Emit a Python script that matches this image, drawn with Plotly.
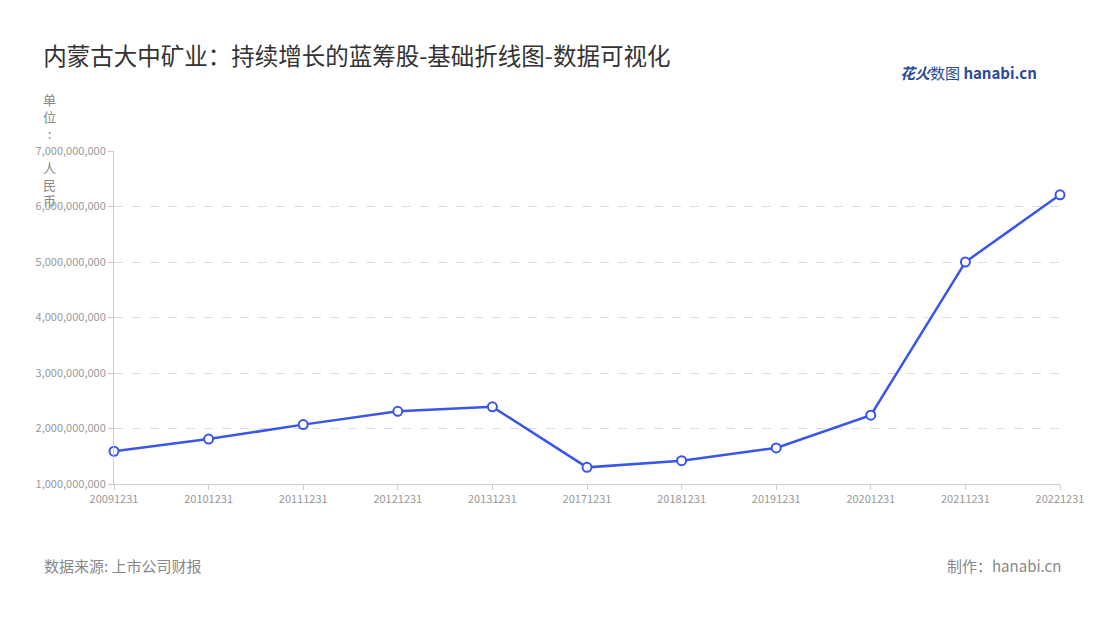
import plotly.graph_objects as go

categories = ["20091231","20101231","20111231","20121231","20131231","20171231","20181231","20191231","20201231","20211231","20221231"]
values = [1.59e9, 1.81e9, 2.07e9, 2.31e9, 2.39e9, 1.30e9, 1.42e9, 1.65e9, 2.24e9, 5.0e9, 6.21e9]
tick_vals = [1e9, 2e9, 3e9, 4e9, 5e9, 6e9, 7e9]
tick_text = ["1,000,000,000","2,000,000,000","3,000,000,000","4,000,000,000","5,000,000,000","6,000,000,000","7,000,000,000"]

font = "Noto Sans CJK SC"
fig = go.Figure(go.Scatter(
    x=categories, y=values, mode="lines+markers",
    line=dict(color="#3a56e8", width=2.5),
    marker=dict(size=9, color="white", line=dict(color="#3a56e8", width=2)),
    cliponaxis=False, showlegend=False))

fig.update_layout(
    width=1100, height=620, plot_bgcolor="white", paper_bgcolor="white",
    margin=dict(l=106, r=48, t=143, b=144),
    font=dict(family=font, color="#999"),
    title=dict(text="内蒙古大中矿业：持续增长的蓝筹股-基础折线图-数据可视化", x=0.032, xanchor="left",
               y=0.922, yanchor="middle", font=dict(size=23.5, color="#333", family=font)),
    xaxis=dict(type="category", range=[0, 10], showgrid=False, showline=True, linecolor="#ccc",
               ticks="outside", tickcolor="#ccc", ticklen=5, tickfont=dict(size=11, color="#999")),
    yaxis=dict(range=[1e9, 7e9], tickvals=tick_vals, ticktext=tick_text, showgrid=True,
               gridcolor="#ddd", griddash="dash", zeroline=False, ticks="outside", tickcolor="#ccc",
               ticklen=5, showline=True, linecolor="#ccc", tickfont=dict(size=11, color="#999")),
    annotations=[
        dict(text="单<br>位<br>:<br><br>人<br>民<br>币", x=-0.068, y=1.19, xref="paper", yref="paper", showarrow=False,
             font=dict(size=13, color="#888"), xanchor="center", yanchor="top"),
        dict(text="数据来源: 上市公司财报", x=-0.076, y=-0.245, xref="paper", yref="paper", showarrow=False,
             xanchor="left", yanchor="middle", font=dict(size=15, color="#888")),
        dict(text="制作：hanabi.cn", x=1.003, y=-0.245, xref="paper", yref="paper", showarrow=False,
             xanchor="right", yanchor="middle", font=dict(size=15, color="#888")),
        dict(text="<b><i>花火</i></b>数图 <b>hanabi.cn</b>", x=0.978, y=1.235, xref="paper", yref="paper", showarrow=False,
             xanchor="right", yanchor="middle", font=dict(size=15, color="#2b4a9a")),
    ])
fig.write_html("out.html")
